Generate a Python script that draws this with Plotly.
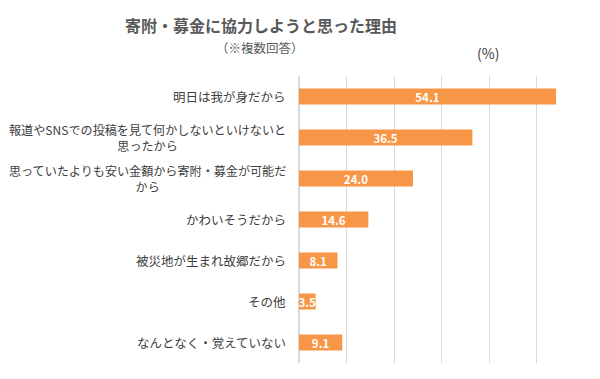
import plotly.graph_objects as go

categories = [
    "明日は我が身だから",
    "報道やSNSでの投稿を見て何かしないといけないと<br>思ったから",
    "思っていたよりも安い金額から寄附・募金が可能だ<br>から",
    "かわいそうだから",
    "被災地が生まれ故郷だから",
    "その他",
    "なんとなく・覚えていない",
]
values = [54.1, 36.5, 24.0, 14.6, 8.1, 3.5, 9.1]
value_labels = [f"{v:.1f}" for v in values]

FONT = "Noto Sans CJK JP"
OFF = 8  # default page body margin
W, H = 600 - OFF, 379 - OFF
# target plot area in page pixels: x 299..584, y 76..363
L, R, T, B = 299 - OFF, 600 - 584, 76 - OFF, 379 - 363
PW, PH = W - L - R, H - T - B


def px(x):
    return (x - OFF - L) / PW


def py(y):
    return (H - B - (y - OFF)) / PH


fig = go.Figure()
fig.add_trace(go.Bar(
    x=values, y=list(range(len(categories))), orientation="h",
    marker=dict(color="#F79646", line=dict(width=0)),
    width=0.39,
    text=value_labels, textposition="inside", insidetextanchor="middle",
    textfont=dict(family=FONT, size=11.5, color="white", weight="bold"),
    cliponaxis=False, hoverinfo="skip",
))

for i, c in enumerate(categories):
    size = 12.1 if "<br>" in c else 12.5
    fig.add_annotation(x=px(288), xref="paper", y=i, yref="y", text=c,
                       xanchor="right", yanchor="middle", align="center",
                       showarrow=False,
                       font=dict(family=FONT, size=size, color="#404040"))

fig.add_annotation(x=px(261), y=py(25), xref="paper", yref="paper",
                   xanchor="center", yanchor="middle", showarrow=False,
                   text="<b>寄附・募金に協力しようと思った理由</b>",
                   font=dict(family=FONT, size=16, color="#595959"))
fig.add_annotation(x=px(260), y=py(48), xref="paper", yref="paper",
                   xanchor="center", yanchor="middle", showarrow=False,
                   text="（※複数回答）",
                   font=dict(family=FONT, size=12.5, color="#595959"))
fig.add_annotation(x=px(488), y=py(53), xref="paper", yref="paper",
                   xanchor="center", yanchor="middle", showarrow=False,
                   text="(%)",
                   font=dict(family=FONT, size=14, color="#404040"))

fig.update_layout(
    width=W, height=H,
    margin=dict(l=L, r=R, t=T, b=B),
    paper_bgcolor="white", plot_bgcolor="white",
    showlegend=False,
    uniformtext=dict(mode="show", minsize=11.5),
    xaxis=dict(range=[0, 60], dtick=10, showgrid=True, gridcolor="#D9D9D9",
               gridwidth=1, zeroline=True, zerolinecolor="#D9D9D9",
               showticklabels=False, ticks="", fixedrange=True),
    yaxis=dict(range=[6.5, -0.5], showticklabels=False, showgrid=False,
               zeroline=False, ticks="", fixedrange=True),
)
fig.write_html("out.html")
